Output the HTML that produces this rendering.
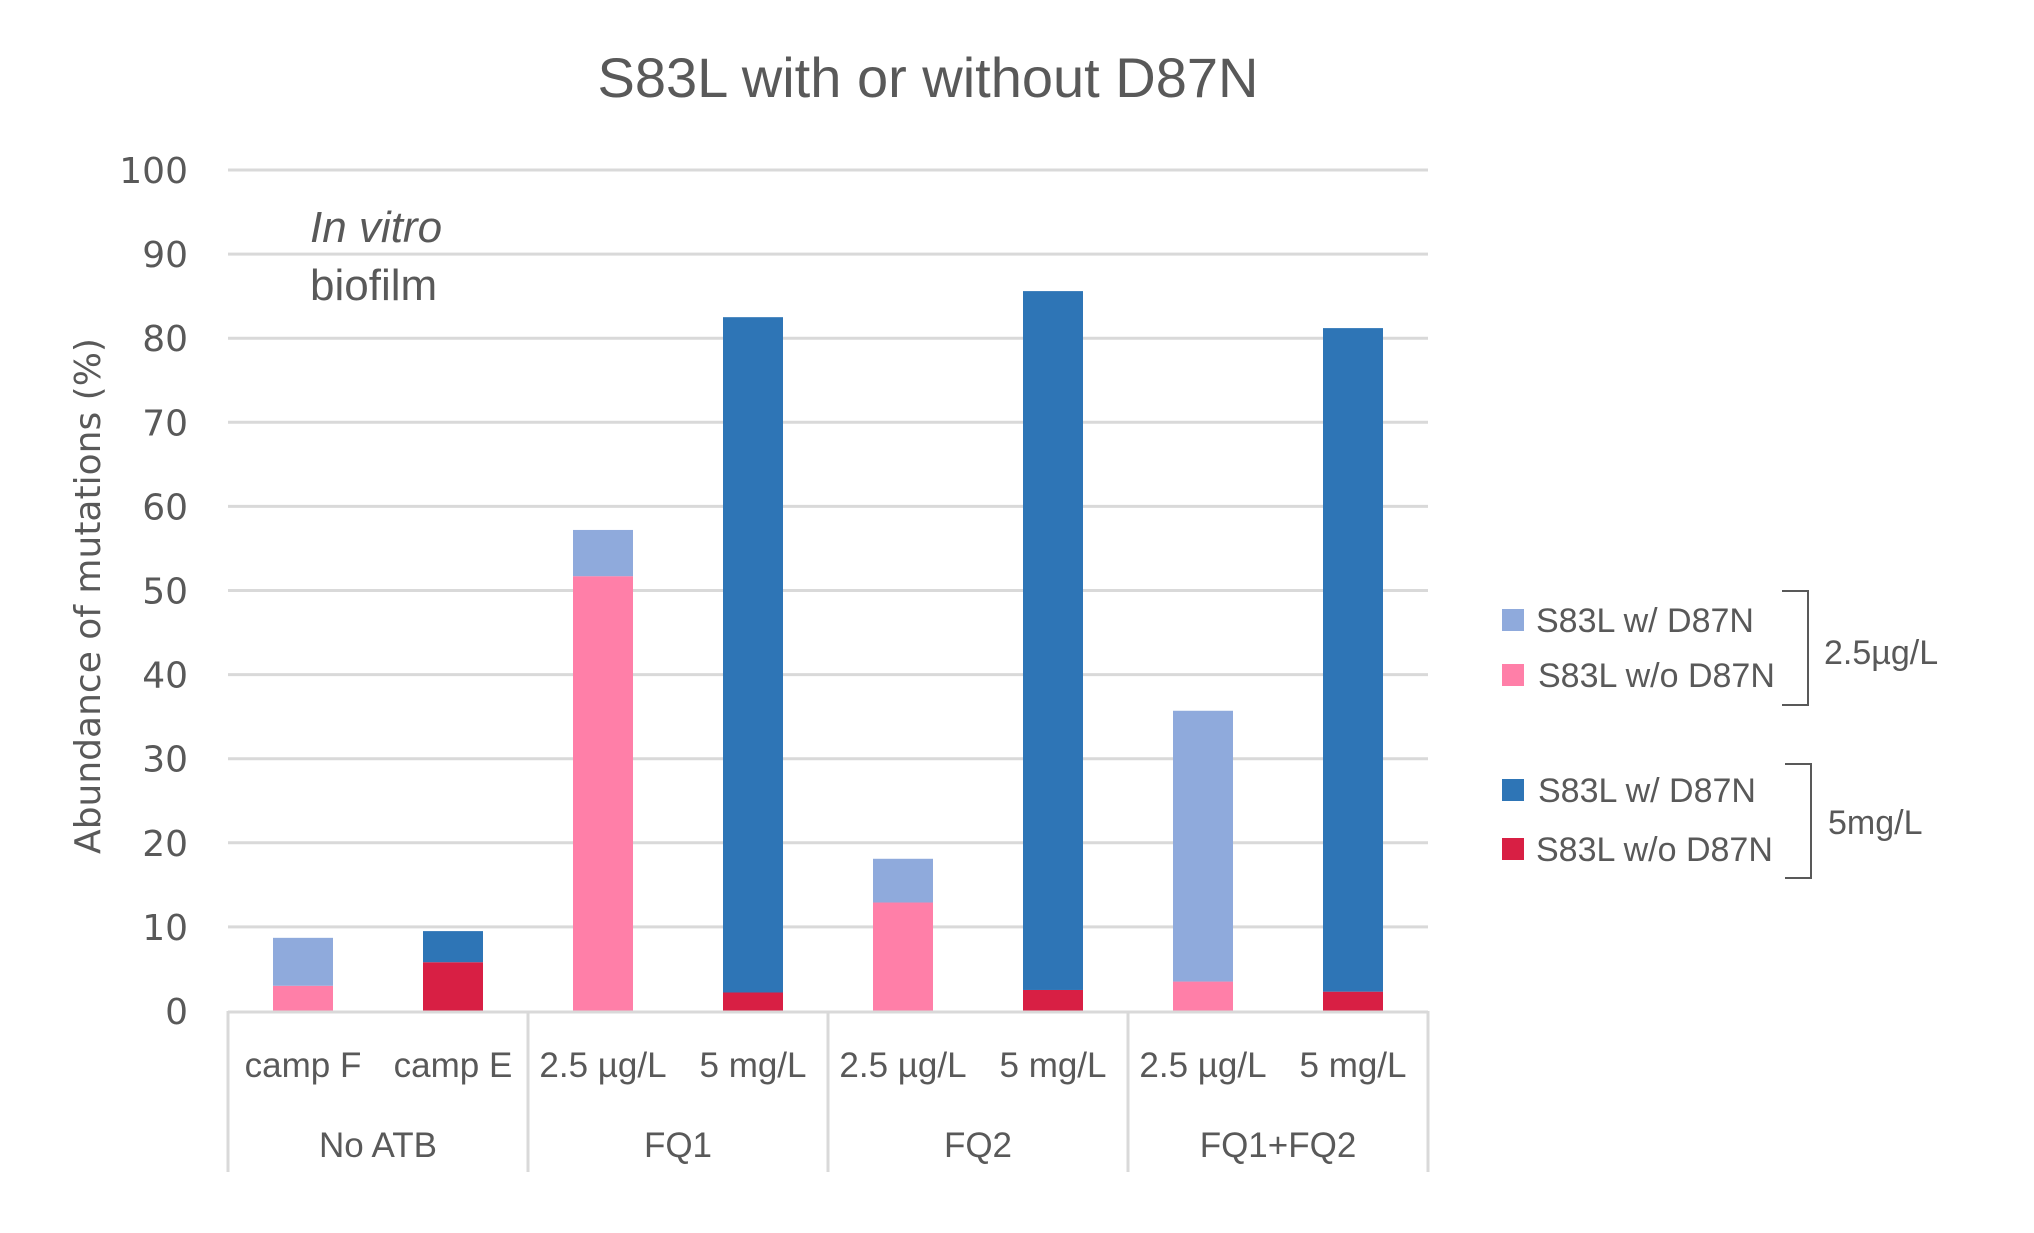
<!DOCTYPE html>
<html><head><meta charset="utf-8">
<style>
html,body{margin:0;padding:0;background:#fff;}
svg{display:block;font-family:"Liberation Sans Narrow","Liberation Sans",sans-serif;}
</style></head>
<body>
<svg id="chart" width="2034" height="1233" viewBox="0 0 2034 1233" xmlns="http://www.w3.org/2000/svg">
<text x="928" y="97" font-size="56" fill="#595959" text-anchor="middle">S83L with or without D87N</text>
<text transform="translate(100,596) rotate(-90)" font-family="'DejaVu Sans',sans-serif" font-size="36" fill="#595959" text-anchor="middle">Abundance of mutations (%)</text>
<text x="310" y="242" font-size="44" font-style="italic" fill="#595959">In vitro</text>
<text x="310" y="300" font-size="44" fill="#595959">biofilm</text>
<g id="grid"></g>
<g id="bars"></g>
<g id="xaxis"></g>
<g id="legend">
  <rect x="1502" y="609" width="22" height="22" fill="#8faadc"/>
  <text x="1536" y="632" font-size="34" fill="#595959">S83L w/ D87N</text>
  <rect x="1502" y="664" width="22" height="22" fill="#ff7fa8"/>
  <text x="1538" y="687" font-size="34" fill="#595959">S83L w/o D87N</text>
  <path d="M1782,591 H1808 V705 H1782" fill="none" stroke="#595959" stroke-width="2"/>
  <text x="1824" y="664" font-size="34" fill="#595959">2.5µg/L</text>
  <rect x="1502" y="779" width="22" height="22" fill="#2e75b6"/>
  <text x="1538" y="802" font-size="34" fill="#595959">S83L w/ D87N</text>
  <rect x="1502" y="838" width="22" height="22" fill="#d81f44"/>
  <text x="1536" y="861" font-size="34" fill="#595959">S83L w/o D87N</text>
  <path d="M1785,764 H1811 V878 H1785" fill="none" stroke="#595959" stroke-width="2"/>
  <text x="1828" y="834" font-size="34" fill="#595959">5mg/L</text>
</g>
</svg>
<script>
const categories = ["camp F","camp E","2.5 µg/L","5 mg/L","2.5 µg/L","5 mg/L","2.5 µg/L","5 mg/L"];
const groups = ["No ATB","FQ1","FQ2","FQ1+FQ2"];
const pinkVals  = [3,0,51.7,0,12.9,0,3.5,0];
const lightVals = [5.7,0,5.5,0,5.2,0,32.2,0];
const redVals   = [0,5.8,0,2.2,0,2.5,0,2.3];
const darkVals  = [0,3.7,0,80.3,0,83.1,0,78.9];
const yTicks = [0,10,20,30,40,50,60,70,80,90,100];

const NS="http://www.w3.org/2000/svg";
const X0=228, X1=1428, Y0=1011, Y100=170;
const catW=(X1-X0)/categories.length, barW=60;
function y(v){return Y0-(v/100)*(Y0-Y100);}
function xc(i){return X0+catW*(i+0.5);}
function mk(tag,attrs,parent){const e=document.createElementNS(NS,tag);for(const k in attrs)e.setAttribute(k,attrs[k]);parent.appendChild(e);return e;}
const grid=document.getElementById('grid'), bars=document.getElementById('bars'), xa=document.getElementById('xaxis');
yTicks.forEach(t=>{
  if(t>0){const l=mk('line',{x1:X0,x2:X1,y1:y(t),y2:y(t),stroke:'#d9d9d9','stroke-width':3},grid);
  
  }
  const tx=mk('text',{x:188,y:y(t)+13,'font-size':36,fill:'#595959','text-anchor':'end','font-family':"'DejaVu Sans',sans-serif"},grid);
  tx.textContent=t;
  
  
});
const series=[[pinkVals,'#ff7fa8','pink'],[lightVals,'#8faadc','light-blue'],[redVals,'#d81f44','red'],[darkVals,'#2e75b6','dark-blue']];
categories.forEach((c,i)=>{
  let base=0;
  series.forEach(([vals,col,nm])=>{
    const v=vals[i]; if(v<=0) return;
    const r=mk('rect',{x:xc(i)-barW/2,y:y(base+v),width:barW,height:y(base)-y(base+v),fill:col},bars);
    
    
    base+=v;
  });
  const t=mk('text',{x:xc(i),y:1077,'font-size':35,fill:'#595959','text-anchor':'middle'},xa);
  t.textContent=c;
  
  
});
const ax=mk('line',{x1:X0,x2:X1,y1:Y0+1,y2:Y0+1,stroke:'#d9d9d9','stroke-width':3},xa);


for(let g=0;g<=groups.length;g++){
  const gx=X0+g*catW*2;
  const l=mk('line',{x1:gx,x2:gx,y1:Y0,y2:1172,stroke:'#d9d9d9','stroke-width':3},xa);
  
  
}
groups.forEach((g,i)=>{
  const t=mk('text',{x:X0+catW*(2*i+1),y:1157,'font-size':35,fill:'#595959','text-anchor':'middle'},xa);
  t.textContent=g;
  
  
});
</script>
</body></html>
